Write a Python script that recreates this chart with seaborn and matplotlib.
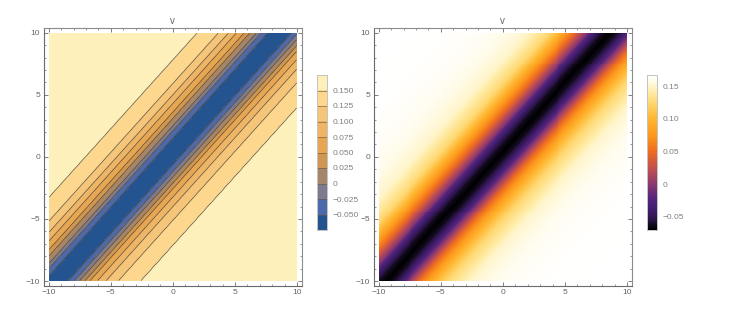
import numpy as np
import matplotlib
matplotlib.use("Agg")
import matplotlib.pyplot as plt
from matplotlib.colors import ListedColormap, LinearSegmentedColormap
from matplotlib.ticker import FixedLocator
import seaborn as sns

# Value of the surface across the diagonal ridge (offset = y - 1.11 x)
offset = [-24, -14, -10, -7.1, -5.1, -4.0, -3.23, -2.56, -2.12, -1.62, -1.18, -0.62, -0.2, 0.44,
          1.1, 1.5, 2.1, 2.5, 3.1, 3.6, 4.3, 5.0, 5.9, 7.8, 11, 15, 24]
value = [0.1675, 0.166, 0.161, 0.15, 0.125, 0.10, 0.075, 0.05, 0.025, 0.0, -0.025, -0.05, -0.062, -0.07,
         -0.062, -0.05, -0.025, 0.0, 0.025, 0.05, 0.075, 0.10, 0.125, 0.15, 0.161, 0.166, 0.1675]
slope = 1.11

contour_levels = [-0.05, -0.025, 0, 0.025, 0.05, 0.075, 0.10, 0.125, 0.15]
contour_labels = ["−0.050", "−0.025", "0", "0.025", "0.050", "0.075", "0.100", "0.125", "0.150"]
band_colors = ["#23548f", "#4c69a9", "#7c7b90", "#a6866b", "#cf9751", "#e7a652",
               "#eeb566", "#f5c57a", "#fcd78d", "#fef0bb"]
density_ticks = [-0.05, 0, 0.05, 0.10, 0.15]
density_labels = ["−0.05", "0", "0.05", "0.10", "0.15"]
density_stops = [-0.07, -0.064, -0.055, -0.04, -0.022, 0.0, 0.025, 0.05, 0.075, 0.10, 0.125, 0.145, 0.157, 0.167]
density_colors = ["#000000", "#0e0818", "#2a1445", "#3f1c6c", "#55247c", "#8a3870", "#c4504e",
                  "#ee6c20", "#fd981c", "#ffb52f", "#ffd872", "#fff0b4", "#fffbe8", "#ffffff"]
axis_ticks = [-10, -5, 0, 5, 10]
axis_labels = ["−10", "−5", "0", "5", "10"]
title = "v"

sns.set_theme(style="white")
plt.rcParams["font.family"] = ["Liberation Sans", "DejaVu Sans"]

TXT = "#666666"
FRAME = "#6a6a6a"
W, H = 732, 310
n = 250
centers = -10 + (np.arange(n) + 0.5) * 20 / n
X, Y = np.meshgrid(centers, centers)
Z = np.interp(Y - slope * X, offset, value)

vlo, vhi = density_stops[0], density_stops[-1]
density_cmap = LinearSegmentedColormap.from_list(
    "density", [((s - vlo) / (vhi - vlo), c) for s, c in zip(density_stops, density_colors)], N=512)


def to_cell(v):
    return (np.asarray(v, dtype=float) + 10) / 20 * n


def pixel_axes(fig, x0, x1, y0, y1):
    return fig.add_axes([x0 / W, 1 - y1 / H, (x1 - x0) / W, (y1 - y0) / H])


def dress(ax, title_text):
    ax.set_xlim(to_cell(-10.42), to_cell(10.4))
    ax.set_ylim(to_cell(-10.4), to_cell(10.42))
    ax.set_aspect("auto")
    ax.set_xticks(to_cell(axis_ticks), axis_labels, rotation=0)
    ax.set_yticks(to_cell(axis_ticks), axis_labels, rotation=0)
    minor = to_cell(np.arange(-10, 10.5, 1))
    ax.xaxis.set_minor_locator(FixedLocator(minor))
    ax.yaxis.set_minor_locator(FixedLocator(minor))
    ax.tick_params(which="major", direction="in", length=3.2, width=0.6, color=FRAME,
                   top=True, right=True, bottom=True, left=True,
                   labelsize=6, labelcolor=TXT, pad=2.5)
    ax.tick_params(which="minor", direction="in", length=1.6, width=0.5, color=FRAME,
                   top=True, right=True, bottom=True, left=True)
    for side, spine in ax.spines.items():
        spine.set_visible(True)
        spine.set_color(FRAME if side in ("left", "bottom") else "#8c8c8c")
        spine.set_linewidth(0.8)
    ax.set_xlabel("")
    ax.set_ylabel("")
    ax.set_title(title_text, fontsize=7, color=TXT, pad=2.5)


def dress_bar(cax, ticks, labels):
    cax.set_yticks(ticks, labels)
    cax.tick_params(axis="y", direction="in", length=3, width=0.5, color="#8a8a8a",
                    labelsize=6, labelcolor="#808080", pad=4, left=False, right=True)
    for spine in cax.spines.values():
        spine.set_visible(True)
        spine.set_color("#c4c4c4")
        spine.set_linewidth(0.7)


fig = plt.figure(figsize=(W / 100, H / 100), dpi=100, facecolor="white")

# Left panel: banded contour plot
ax1 = pixel_axes(fig, 43.5, 302, 27.5, 286)
cax1 = pixel_axes(fig, 316.7, 327, 75, 230)
band_cmap = ListedColormap(band_colors)
sns.heatmap(Z, ax=ax1, cbar_ax=cax1, cmap=band_cmap,
            vmin=-0.075, vmax=0.175, xticklabels=False, yticklabels=False)
band_edges = [-0.2] + contour_levels + [0.3]
ax1.contourf(to_cell(X), to_cell(Y), Z, levels=band_edges, colors=band_colors)
ax1.contour(to_cell(X), to_cell(Y), Z, levels=contour_levels,
            colors="#4a4030", linewidths=0.55, alpha=0.85, linestyles="solid")
dress(ax1, title)
cax1.hlines(contour_levels, 0, 1, transform=cax1.get_yaxis_transform(),
            colors="#6a5a40", linewidths=0.6, alpha=0.7)
dress_bar(cax1, contour_levels, contour_labels)

# Right panel: continuous density plot
ax2 = pixel_axes(fig, 373.5, 632, 27.5, 286)
cax2 = pixel_axes(fig, 646.7, 657, 75, 230)
sns.heatmap(Z, ax=ax2, cbar_ax=cax2, cmap=density_cmap,
            vmin=vlo, vmax=vhi, xticklabels=False, yticklabels=False)
dress(ax2, title)
dress_bar(cax2, density_ticks, density_labels)

fig.savefig("out.png", dpi=100, facecolor="white")
